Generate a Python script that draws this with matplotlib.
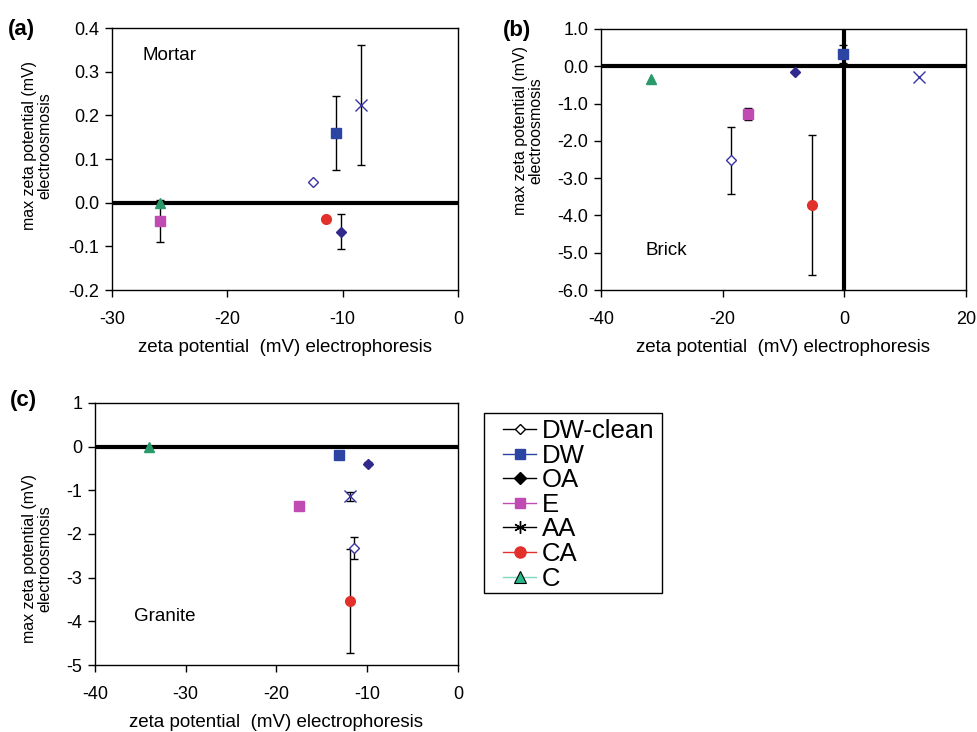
import numpy as np
import matplotlib
matplotlib.use("Agg")
import matplotlib.pyplot as plt
from matplotlib.lines import Line2D
from matplotlib.patches import Rectangle

plt.rcParams['font.family'] = ['Liberation Sans', 'DejaVu Sans']
plt.rcParams['axes.unicode_minus'] = False

series = ["DW-clean", "DW", "OA", "E", "AA", "CA", "C"]

# (a) Mortar: x, y, yerr
mortar_x = [-12.6, -10.55, -10.1, -25.8, -8.4, -11.45, -25.8]
mortar_y = [0.048, 0.160, -0.067, -0.041, 0.224, -0.037, 0.0]
mortar_err = [0.0, 0.084, 0.040, 0.048, 0.138, 0.0, 0.0]

# (b) Brick
brick_x = [-18.6, -0.15, -8.1, -15.8, 12.3, -5.3, -31.8]
brick_y = [-2.52, 0.34, -0.16, -1.29, -0.29, -3.72, -0.33]
brick_err = [0.90, 0.24, 0.0, 0.16, 0.0, 1.87, 0.0]

# (c) Granite
granite_x = [-11.5, -13.1, -9.9, -17.5, -11.9, -11.9, -34.0]
granite_y = [-2.32, -0.18, -0.39, -1.37, -1.14, -3.54, 0.0]
granite_err = [0.25, 0.0, 0.04, 0.0, 0.10, 1.19, 0.0]

navy = "#3a34a0"
marker_style = {
    "DW-clean": dict(marker="D", ms=5, mfc="white", mec=navy, mew=1.0),
    "DW": dict(marker="s", ms=7, mfc="#2c45a3", mec="#2c45a3"),
    "OA": dict(marker="D", ms=5.5, mfc="#312a8c", mec="#312a8c"),
    "E": dict(marker="s", ms=7, mfc="#c04bb3", mec="#c04bb3"),
    "AA": dict(marker="x", ms=9, mfc=navy, mec=navy, mew=1.0),
    "CA": dict(marker="o", ms=7, mfc="#e3302a", mec="#e3302a"),
    "C": dict(marker="^", ms=7, mfc="#2a9a6c", mec="#2a9a6c"),
}

fig = plt.figure(figsize=(9.77, 7.32), dpi=100)
ax_a = fig.add_axes([0.1146, 0.6038, 0.3541, 0.3579])
ax_b = fig.add_axes([0.6151, 0.6038, 0.3736, 0.3566])
ax_c = fig.add_axes([0.0972, 0.0915, 0.3715, 0.358])

panels = [
    (ax_a, mortar_x, mortar_y, mortar_err, (-30, 0), np.arange(-30, 1, 10), (-0.2, 0.4),
     np.arange(-0.2, 0.41, 0.1), "{:.1f}", "Mortar", (0.087, 0.897), (-0.172, 0.55)),
    (ax_b, brick_x, brick_y, brick_err, (-40, 20), np.arange(-40, 21, 20), (-6, 1),
     np.arange(-6, 1.1, 1), "{:.1f}", "Brick", (0.123, 0.153), (-0.157, 0.61)),
    (ax_c, granite_x, granite_y, granite_err, (-40, 0), np.arange(-40, 1, 10), (-5, 1),
     np.arange(-5, 1.1, 1), "{:.0f}", "Granite", (0.107, 0.187), (-0.117, 0.405)),
]

for ax, xs, ys, errs, xl, xt, yl, yt, fmt, name, npos, lpos in panels:
    ax.axhline(0, color="black", lw=3, zorder=1)
    if ax is ax_b:
        ax.axvline(0, color="black", lw=3, zorder=1)
    for i, s in enumerate(series):
        if errs[i] > 0:
            ax.errorbar(xs[i], ys[i], yerr=errs[i], fmt="none", ecolor="black",
                        elinewidth=1, capsize=3, capthick=1, zorder=2)
        ax.plot(xs[i], ys[i], ls="none", zorder=3, **marker_style[s])
    ax.set_xlim(*xl)
    ax.set_ylim(*yl)
    ax.set_xticks(xt)
    ax.set_yticks(yt)
    ax.set_yticklabels([fmt.format(0.0 if abs(v) < 1e-9 else v) for v in yt])
    ax.tick_params(direction="out", length=5, width=1, labelsize=13)
    ax.tick_params(axis="x", pad=10)
    ax.tick_params(axis="y", pad=4)
    for sp in ax.spines.values():
        sp.set_linewidth(1.0)
    ax.set_xlabel("zeta potential  (mV) electrophoresis", fontsize=13.5, labelpad=8)
    ax.set_ylabel("max zeta potential (mV)\nelectroosmosis", fontsize=11.5,
                  linespacing=1.05)
    ax.yaxis.set_label_coords(*lpos)
    ax.text(npos[0], npos[1], name, transform=ax.transAxes, fontsize=13.5, va="center")

fig.text(0.008, 0.974, "(a)", fontsize=16, fontweight="bold", va="top")
fig.text(0.515, 0.973, "(b)", fontsize=16, fontweight="bold", va="top")
fig.text(0.010, 0.467, "(c)", fontsize=16, fontweight="bold", va="top")

leg_colors = {"DW-clean": "black", "DW": "#2c45a3", "OA": "black", "E": "#c04bb3",
              "AA": "black", "CA": "#e3302a", "C": "#7fd8c0"}
leg_markers = {
    "DW-clean": dict(marker="D", ms=5.5, mfc="white", mec="black"),
    "DW": dict(marker="s", ms=7.5, mfc="#2c45a3", mec="#2c45a3"),
    "OA": dict(marker="D", ms=6, mfc="black", mec="black"),
    "E": dict(marker="s", ms=7.5, mfc="#c04bb3", mec="#c04bb3"),
    "AA": dict(marker=(6, 2, 0), ms=9, mfc="black", mec="black"),
    "CA": dict(marker="o", ms=8, mfc="#e3302a", mec="#e3302a"),
    "C": dict(marker="^", ms=9, mfc="#2ab88a", mec="black", mew=0.8),
}
handles = [Line2D([0], [0], color=leg_colors[s], lw=1, **leg_markers[s]) for s in series]

# legend frame drawn separately to get the wide left margin of the original
fig.patches.append(Rectangle((0.4954, 0.1899), 0.1822, 0.2459, transform=fig.transFigure,
                             facecolor="none", edgecolor="black", lw=1.0))
fig.legend(handles, series, loc="upper left", bbox_to_anchor=(0.5148, 0.427),
           fontsize=18.5, frameon=False, labelspacing=0.02, handlelength=1.3,
           handletextpad=0.22, borderpad=0, borderaxespad=0)

fig.savefig("out.png", dpi=100)
